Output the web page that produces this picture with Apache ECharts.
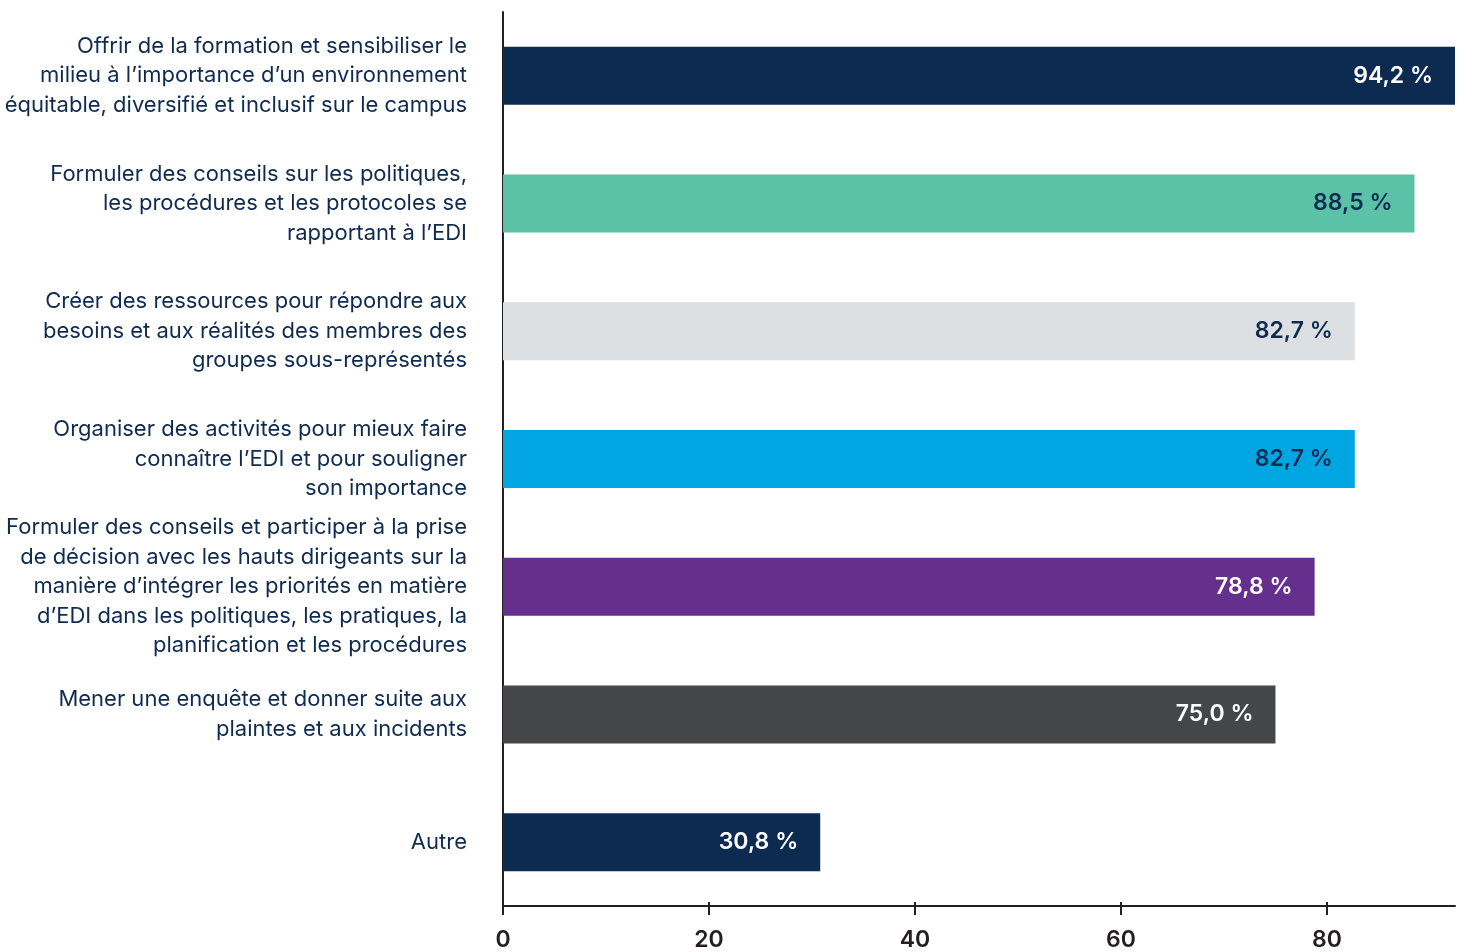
<!DOCTYPE html>
<html lang="fr">
<head>
<meta charset="utf-8">
<title>Activités des bureaux EDI</title>
<script src="https://cdn.jsdelivr.net/npm/echarts@6/dist/echarts.min.js"></script>
<style>
  html, body { margin: 0; padding: 0; background: #ffffff; }
  #chart { width: 1465px; height: 952px; }
</style>
</head>
<body>
<div id="chart"></div>
<script>
// Activities, top to bottom
const categories = [
  "Offrir de la formation et sensibiliser le\nmilieu à l’importance d’un environnement\néquitable, diversifié et inclusif sur le campus",
  "Formuler des conseils sur les politiques,\nles procédures et les protocoles se\nrapportant à l’EDI",
  "Créer des ressources pour répondre aux\nbesoins et aux réalités des membres des\ngroupes sous-représentés",
  "Organiser des activités pour mieux faire\nconnaître l’EDI et pour souligner\nson importance",
  "Formuler des conseils et participer à la prise\nde décision avec les hauts dirigeants sur la\nmanière d’intégrer les priorités en matière\nd’EDI dans les politiques, les pratiques, la\nplanification et les procédures",
  "Mener une enquête et donner suite aux\nplaintes et aux incidents",
  "Autre"
];

// Share of respondents (%)
const values = [94.2, 88.5, 82.7, 82.7, 78.8, 75.0, 30.8];

// Value-axis tick labels
const xTicks = [0, 20, 40, 60, 80];

// Bar fill and label colours
const barColors = ["#0d2a50", "#5bc2a7", "#dce0e3", "#00a6e1", "#652f8e", "#454648", "#0d2a50"];
const labelColors = ["#ffffff", "#0d2a50", "#0d2a50", "#0d2a50", "#ffffff", "#ffffff", "#ffffff"];

const FONT = "Inter, 'Noto Sans', sans-serif";
const AXIS_COLOR = "#231f20";

const chart = echarts.init(document.getElementById("chart"), null, { renderer: "canvas" });

const commonX = {
  type: "value",
  min: 0,
  max: 92.43,
  interval: 20,
  splitLine: { show: false }
};

chart.setOption({
  animation: false,
  backgroundColor: "#ffffff",
  grid: { left: 503, right: 10, top: 12, bottom: 46, containLabel: false },
  xAxis: [
    Object.assign({}, commonX, {
      position: "bottom",
      axisLine: { show: true, onZero: false, lineStyle: { color: AXIS_COLOR, width: 2 } },
      axisTick: {
        show: true, inside: false, length: 9,
        customValues: xTicks,
        lineStyle: { color: AXIS_COLOR, width: 2 }
      },
      axisLabel: {
        customValues: xTicks,
        margin: 23,
        color: AXIS_COLOR,
        fontFamily: FONT,
        fontSize: 23,
        fontWeight: 600
      }
    }),
    // short upward part of each tick, crossing the axis line
    Object.assign({}, commonX, {
      position: "bottom",
      axisLine: { show: false },
      axisTick: {
        show: true, inside: true, length: 4,
        customValues: xTicks,
        lineStyle: { color: AXIS_COLOR, width: 2 }
      },
      axisLabel: { show: false }
    })
  ],
  yAxis: {
    type: "category",
    data: categories,
    inverse: true,
    axisLine: { show: true, lineStyle: { color: AXIS_COLOR, width: 2 } },
    axisTick: { show: false },
    axisLabel: {
      margin: 36,
      color: "#0f2b50",
      fontFamily: FONT,
      fontSize: 22,
      lineHeight: 29.5,
      align: "right"
    }
  },
  series: [{
    type: "bar",
    xAxisIndex: 0,
    barWidth: 58,
    clip: true,
    data: values.map((v, i) => ({
      value: v,
      itemStyle: { color: barColors[i] },
      label: { color: labelColors[i] }
    })),
    label: {
      show: true,
      position: "insideRight",
      distance: 22,
      fontFamily: FONT,
      fontSize: 23,
      fontWeight: 600,
      formatter: p => p.value.toFixed(1).replace(".", ",") + " %"
    }
  }]
});
</script>
</body>
</html>
